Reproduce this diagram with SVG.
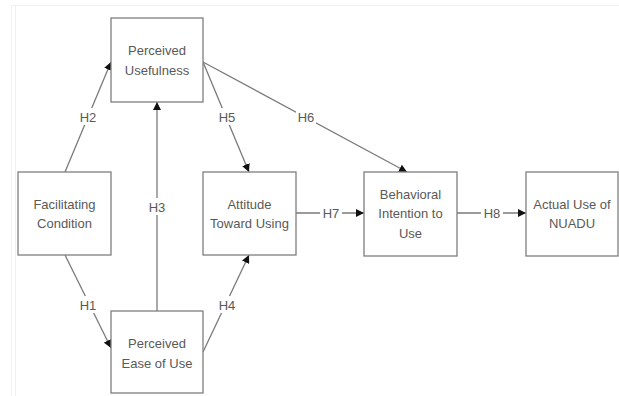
<svg xmlns="http://www.w3.org/2000/svg" width="619" height="396" viewBox="0 0 619 396">
<style>
.box{fill:#fff;stroke:#7f7f7f;stroke-width:1.3}
.t{font-family:"Liberation Sans",Arial,sans-serif;font-size:13px;fill:#595959;text-anchor:middle}
.c{stroke:#7a7a7a;stroke-width:1.3;fill:none}
.lbl{font-family:"Liberation Sans",Arial,sans-serif;font-size:13px;fill:#595959;text-anchor:middle}
.bg{fill:#fff}
.frame{stroke:#f0f0f0;stroke-width:1;fill:none}
</style>
<defs>
<marker id="ah" viewBox="0 0 10 10" refX="10" refY="5" markerWidth="8" markerHeight="8" markerUnits="userSpaceOnUse" orient="auto">
<path d="M0,0 L10,5 L0,10 Z" fill="#111"/>
</marker>
</defs>
<rect width="619" height="396" fill="#fff"/>
<path class="frame" d="M11.5,396 V5.5 H619 M15.5,396 V5.5"/>
<g id="connectors">
<line class="c" x1="65" y1="172" x2="111" y2="62" marker-end="url(#ah)"/>
<line class="c" x1="157" y1="311" x2="157" y2="102" marker-end="url(#ah)"/>
<line class="c" x1="203" y1="62" x2="249" y2="172" marker-end="url(#ah)"/>
<line class="c" x1="203" y1="62" x2="407" y2="172" marker-end="url(#ah)"/>
<line class="c" x1="65" y1="255" x2="111" y2="348" marker-end="url(#ah)"/>
<line class="c" x1="203" y1="352" x2="249" y2="255" marker-end="url(#ah)"/>
<line class="c" x1="296" y1="213" x2="364" y2="213" marker-end="url(#ah)"/>
<line class="c" x1="457" y1="213" x2="526" y2="213" marker-end="url(#ah)"/>
<rect class="bg" x="78" y="108" width="20" height="17"/>
<text class="lbl" x="88" y="122">H2</text>
<rect class="bg" x="147" y="198" width="20" height="17"/>
<text class="lbl" x="157" y="212">H3</text>
<rect class="bg" x="217" y="108" width="20" height="17"/>
<text class="lbl" x="227" y="122">H5</text>
<rect class="bg" x="296" y="109" width="20" height="16"/>
<text class="lbl" x="306" y="122">H6</text>
<rect class="bg" x="78" y="296" width="20" height="17"/>
<text class="lbl" x="88" y="310">H1</text>
<rect class="bg" x="217" y="296" width="20" height="17"/>
<text class="lbl" x="227" y="310">H4</text>
<rect class="bg" x="320" y="206" width="22" height="16"/>
<text class="lbl" x="331" y="218">H7</text>
<rect class="bg" x="481" y="206" width="22" height="16"/>
<text class="lbl" x="492" y="218">H8</text>
</g>
<g id="pu">
<rect class="box" x="111" y="18" width="92" height="84"/>
<text class="t" x="157" y="55">Perceived</text>
<text class="t" x="157" y="75">Usefulness</text>
</g>
<g id="fc">
<rect class="box" x="18" y="172" width="93" height="83"/>
<text class="t" x="64.5" y="209">Facilitating</text>
<text class="t" x="64.5" y="228">Condition</text>
</g>
<g id="peu">
<rect class="box" x="111" y="311" width="92" height="82"/>
<text class="t" x="157" y="348">Perceived</text>
<text class="t" x="157" y="368">Ease of Use</text>
</g>
<g id="atu">
<rect class="box" x="203" y="172" width="93" height="83"/>
<text class="t" x="249.5" y="209">Attitude</text>
<text class="t" x="249.5" y="228">Toward Using</text>
</g>
<g id="bi">
<rect class="box" x="364" y="172" width="93" height="84"/>
<text class="t" x="410.5" y="199">Behavioral</text>
<text class="t" x="410.5" y="218">Intention to</text>
<text class="t" x="410.5" y="238">Use</text>
</g>
<g id="au">
<rect class="box" x="526" y="172" width="92" height="84"/>
<text class="t" x="572" y="209">Actual Use of</text>
<text class="t" x="572" y="228">NUADU</text>
</g>
</svg>
